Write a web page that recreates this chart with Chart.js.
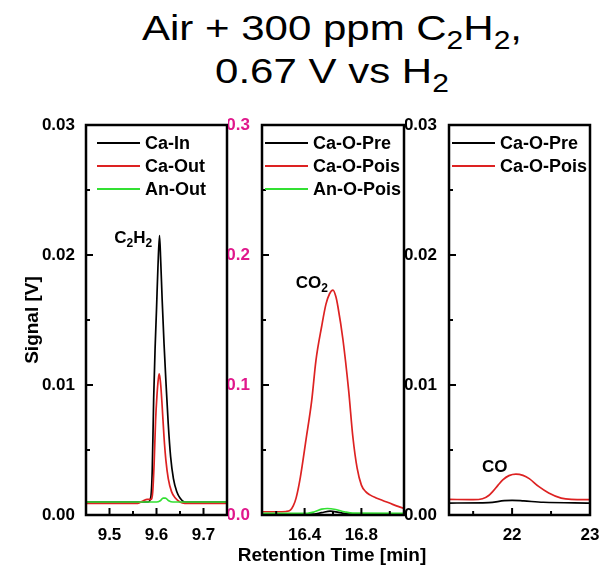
<!DOCTYPE html>
<html>
<head>
<meta charset="utf-8">
<script src="https://cdn.jsdelivr.net/npm/chart.js@4.4.1/dist/chart.umd.min.js"></script>
<style>
  body { margin: 0; background: #fff; }
  #wrap { position: relative; width: 603px; height: 565px; overflow: hidden; background: #fff;
          font-family: "Liberation Sans", Arial, sans-serif; }
  .tline { position: absolute; left: 0; width: 664px; text-align: center; white-space: nowrap;
           font-size: 35px; line-height: 35px; color: #000;
           transform: scaleX(1.2); transform-origin: 332px 0; }
  .tline sub { font-size: 25px; line-height: 0; vertical-align: -9px; }
  #xtitle { position: absolute; left: 0; top: 545px; width: 664px; text-align: center;
            font-size: 19px; font-weight: bold; line-height: 19px; color: #000; }
  canvas { position: absolute; }
</style>
</head>
<body>
<div id="wrap">
  <div class="tline" style="top:10px">Air + 300 ppm C<sub>2</sub>H<sub>2</sub>,</div>
  <div class="tline" style="top:53px">0.67 V vs H<sub>2</sub></div>
  <canvas id="c1" width="232" height="460" style="left:0;top:105px"></canvas>
  <canvas id="c2" width="180" height="460" style="left:228px;top:105px"></canvas>
  <canvas id="c3" width="198" height="460" style="left:405px;top:105px"></canvas>
  <div id="xtitle">Retention Time [min]</div>
</div>
<script>
// --- C2H2 window (9.45 - 9.75 min) ---
const caInTime    = [9.45, 9.55, 9.582, 9.588, 9.591, 9.594, 9.597, 9.600, 9.603, 9.6064, 9.609, 9.612, 9.616, 9.620, 9.625, 9.630, 9.636, 9.643, 9.650, 9.66, 9.75];
const caInSignal  = [0.0010, 0.0010, 0.0010, 0.0014, 0.0035, 0.0090, 0.0128, 0.0158, 0.0190, 0.0215, 0.0195, 0.0166, 0.0132, 0.0103, 0.0070, 0.0045, 0.0028, 0.0018, 0.0013, 0.0010, 0.0010];
const caOutTime   = [9.45, 9.56, 9.572, 9.580, 9.588, 9.592, 9.595, 9.598, 9.601, 9.604, 9.606, 9.609, 9.612, 9.616, 9.620, 9.625, 9.632, 9.640, 9.650, 9.66, 9.75];
const caOutSignal = [0.0009, 0.0009, 0.0011, 0.0012, 0.0012, 0.0018, 0.0040, 0.0072, 0.0092, 0.0105, 0.01085, 0.0100, 0.0084, 0.0060, 0.0042, 0.0028, 0.0018, 0.0013, 0.0010, 0.0009, 0.0009];
const anOutTime   = [9.45, 9.60, 9.608, 9.614, 9.619, 9.626, 9.635, 9.75];
const anOutSignal = [0.0010, 0.0010, 0.0011, 0.0013, 0.0013, 0.0011, 0.0010, 0.0010];

// --- CO2 window (16.1 - 17.1 min) ---
const co2PoisTime   = [16.10, 16.20, 16.27, 16.30, 16.32, 16.34, 16.37, 16.41, 16.45, 16.48, 16.52, 16.55, 16.575, 16.60, 16.62, 16.635, 16.67, 16.71, 16.74, 16.77, 16.80, 16.83, 16.86, 16.90, 16.95, 17.02, 17.10];
const co2PoisSignal = [0.0025, 0.0025, 0.0027, 0.0038, 0.0070, 0.0130, 0.0290, 0.0580, 0.0880, 0.1190, 0.1450, 0.1620, 0.1700, 0.1730, 0.1680, 0.1600, 0.1350, 0.0960, 0.0600, 0.0360, 0.0230, 0.0180, 0.0155, 0.0133, 0.0112, 0.0082, 0.0050];
const co2PreTime    = [16.10, 16.45, 16.52, 16.58, 16.64, 16.72, 17.10];
const co2PreSignal  = [0.0005, 0.0006, 0.0018, 0.0030, 0.0020, 0.0007, 0.0005];
const co2AnTime     = [16.10, 16.42, 16.47, 16.52, 16.56, 16.62, 16.68, 16.74, 17.10];
const co2AnSignal   = [0.0013, 0.0013, 0.0025, 0.0045, 0.0050, 0.0042, 0.0025, 0.0014, 0.0013];

// --- CO window (21.2 - 23 min) ---
const coPoisTime   = [21.19, 21.50, 21.62, 21.70, 21.75, 21.82, 21.88, 21.96, 22.05, 22.14, 22.22, 22.34, 22.47, 22.63, 22.76, 23.00];
const coPoisSignal = [0.00120, 0.00118, 0.00125, 0.00150, 0.00180, 0.00230, 0.00270, 0.00303, 0.00315, 0.00305, 0.00280, 0.00220, 0.00170, 0.00130, 0.00120, 0.00118];
const coPreTime    = [21.19, 21.70, 21.90, 22.00, 22.15, 22.40, 23.00];
const coPreSignal  = [0.00092, 0.00095, 0.00110, 0.00113, 0.00108, 0.00098, 0.00092];

// axis ticks
const xTicks1 = [9.5, 9.6, 9.7];
const xMinor1 = [9.55, 9.65];
const xTicks2 = [16.4, 16.8];
const xMinor2 = [16.2, 16.6, 17.0];
const xTicks3 = [22, 23];
const xMinor3 = [21.5, 22.5];
const yTicksSmall = [0, 0.01, 0.02, 0.03];
const yMinorSmall = [0.005, 0.015, 0.025];
const yTicksBig   = [0, 0.1, 0.2, 0.3];
const yMinorBig   = [0.05, 0.15, 0.25];

const BLACK = '#000000', RED = '#dd2222', GREEN = '#33e033', PINK = '#e0188c';
const FONT = '"Liberation Sans", Arial, sans-serif';

function pts(t, s) { return t.map((v, i) => ({ x: v, y: s[i] })); }

function series(label, t, s, color, order) {
  return {
    label, data: pts(t, s), borderColor: color, backgroundColor: color,
    borderWidth: 1.7, pointRadius: 0, showLine: true,
    cubicInterpolationMode: 'monotone', order
  };
}

// frame, inward ticks, in-plot legend and peak labels
const panelDeco = {
  id: 'panelDeco',
  afterDraw(chart, args, o) {
    const { ctx, chartArea: a, scales: { x, y } } = chart;
    ctx.save();
    ctx.strokeStyle = '#000';
    ctx.lineWidth = 2;
    const xt = (vals, len) => vals.forEach(v => {
      const p = x.getPixelForValue(v);
      ctx.beginPath(); ctx.moveTo(p, a.bottom); ctx.lineTo(p, a.bottom - len); ctx.stroke();
    });
    const yt = (vals, len) => vals.forEach(v => {
      const p = y.getPixelForValue(v);
      ctx.beginPath(); ctx.moveTo(a.left, p); ctx.lineTo(a.left + len, p); ctx.stroke();
    });
    xt(o.xMajor, 7); xt(o.xMinor, 4);
    yt(o.yMajor, 7); yt(o.yMinor, 4);

    ctx.lineWidth = 2.5;
    ctx.strokeRect(a.left, a.top, a.right - a.left, a.bottom - a.top);

    // legend
    ctx.font = 'bold 18px ' + FONT;
    ctx.textBaseline = 'middle';
    ctx.textAlign = 'left';
    chart.data.datasets.forEach((ds, i) => {
      const ly = a.top + 18 + i * 23;
      ctx.strokeStyle = ds.borderColor;
      ctx.lineWidth = 2;
      ctx.beginPath();
      ctx.moveTo(a.left + o.legendX, ly); ctx.lineTo(a.left + o.legendX + 43, ly);
      ctx.stroke();
      ctx.fillStyle = '#000';
      ctx.fillText(ds.label, a.left + o.legendX + 48, ly + 1);
    });

    // peak label with subscripts, anchored at its baseline centre
    const parts = o.peak.parts;
    const widthOf = p => { ctx.font = 'bold ' + (p[1] ? 12 : 17) + 'px ' + FONT; return ctx.measureText(p[0]).width; };
    const total = parts.reduce((s, p) => s + widthOf(p), 0);
    let px = x.getPixelForValue(o.peak.x) - total / 2;
    const py = y.getPixelForValue(o.peak.y);
    ctx.textBaseline = 'alphabetic';
    ctx.fillStyle = '#000';
    parts.forEach(p => {
      const w = widthOf(p);
      ctx.fillText(p[0], px, p[1] ? py + 4 : py);
      px += w;
    });
    ctx.restore();
  }
};

function makeChart(id, cfg) {
  const tickFont = { family: FONT, size: 17, weight: 'bold' };
  return new Chart(document.getElementById(id), {
    type: 'scatter',
    data: { datasets: cfg.datasets },
    options: {
      responsive: false,
      animation: false,
      events: [],
      layout: { padding: { top: 20, right: cfg.padRight, left: 0, bottom: 0 } },
      plugins: {
        legend: { display: false },
        tooltip: { enabled: false },
        panelDeco: cfg.deco
      },
      scales: {
        x: {
          type: 'linear', min: cfg.xMin, max: cfg.xMax,
          grid: { display: false }, border: { display: false },
          afterBuildTicks: s => { s.ticks = cfg.xTicks.map(v => ({ value: v })); },
          afterFit: s => { s.height = 50; },
          ticks: { font: tickFont, color: '#000', padding: 2, callback: cfg.xFmt }
        },
        y: {
          type: 'linear', min: 0, max: cfg.yMax,
          grid: { display: false }, border: { display: false },
          afterBuildTicks: s => { s.ticks = cfg.yTicks.map(v => ({ value: v })); },
          afterFit: s => { s.width = cfg.yWidth; },
          ticks: { font: tickFont, color: cfg.yColor, padding: cfg.yPad, callback: cfg.yFmt },
          title: cfg.yTitle ? {
            display: true, text: cfg.yTitle, color: '#000',
            font: { family: FONT, size: 19, weight: 'bold' }, padding: { top: 21, bottom: 0 }
          } : { display: false }
        }
      }
    },
    plugins: [panelDeco]
  });
}

makeChart('c1', {
  datasets: [
    series('Ca-In', caInTime, caInSignal, BLACK, 3),
    series('Ca-Out', caOutTime, caOutSignal, RED, 2),
    series('An-Out', anOutTime, anOutSignal, GREEN, 1)
  ],
  xMin: 9.45, xMax: 9.75, xTicks: xTicks1, xFmt: v => v.toFixed(1),
  yMax: 0.03, yTicks: yTicksSmall, yFmt: v => v.toFixed(2), yColor: '#000',
  yWidth: 86, yPad: 3, padRight: 5, yTitle: 'Signal [V]',
  deco: {
    xMajor: xTicks1, xMinor: xMinor1, yMajor: yTicksSmall, yMinor: yMinorSmall, legendX: 11,
    peak: { x: 9.5504, y: 0.0209, parts: [['C', 0], ['2', 1], ['H', 0], ['2', 1]] }
  }
});

makeChart('c2', {
  datasets: [
    series('Ca-O-Pre', co2PreTime, co2PreSignal, BLACK, 3),
    series('Ca-O-Pois', co2PoisTime, co2PoisSignal, RED, 2),
    series('An-O-Pois', co2AnTime, co2AnSignal, GREEN, 1)
  ],
  xMin: 16.1, xMax: 17.1, xTicks: xTicks2, xFmt: v => v.toFixed(1),
  yMax: 0.3, yTicks: yTicksBig, yFmt: v => v.toFixed(1), yColor: PINK,
  yWidth: 34, yPad: 4, padRight: 4,
  deco: {
    xMajor: xTicks2, xMinor: xMinor2, yMajor: yTicksBig, yMinor: yMinorBig, legendX: 3,
    peak: { x: 16.451, y: 0.1746, parts: [['CO', 0], ['2', 1]] }
  }
});

makeChart('c3', {
  datasets: [
    series('Ca-O-Pre', coPreTime, coPreSignal, BLACK, 2),
    series('Ca-O-Pois', coPoisTime, coPoisSignal, RED, 1)
  ],
  xMin: 21.19, xMax: 23, xTicks: xTicks3, xFmt: v => String(v),
  yMax: 0.03, yTicks: yTicksSmall, yFmt: v => v.toFixed(2), yColor: '#000',
  yWidth: 44, yPad: 4, padRight: 13,
  deco: {
    xMajor: xTicks3, xMinor: xMinor3, yMajor: yTicksSmall, yMinor: yMinorSmall, legendX: 3,
    peak: { x: 21.778, y: 0.00333, parts: [['CO', 0]] }
  }
});
</script>
</body>
</html>
